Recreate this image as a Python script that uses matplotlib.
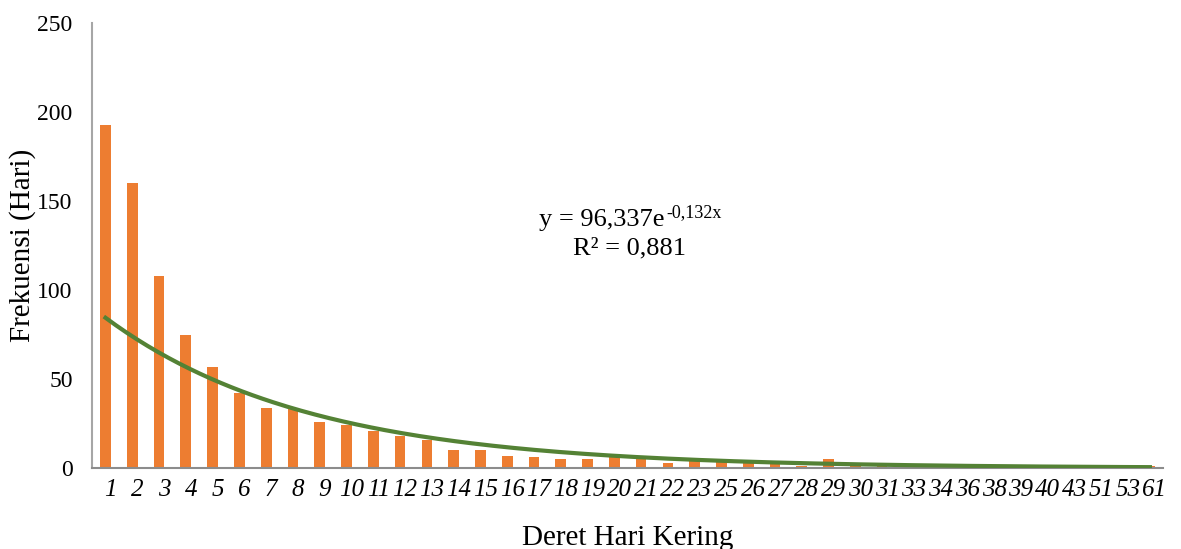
import matplotlib.pyplot as plt
import matplotlib.transforms as mtransforms
import numpy as np

plt.rcParams['font.family'] = ['Liberation Serif', 'DejaVu Serif']

hari = ['1', '2', '3', '4', '5', '6', '7', '8', '9', '10', '11', '12', '13', '14',
        '15', '16', '17', '18', '19', '20', '21', '22', '23', '25', '26', '27', '28',
        '29', '30', '31', '33', '34', '36', '38', '39', '40', '43', '51', '53', '61']
frekuensi = [193, 160, 108, 75, 57, 42, 34, 33, 26, 24, 21, 18, 16, 10,
             10, 7, 6, 5, 5, 6, 6, 3, 4, 4, 3, 3, 1,
             5, 2, 1, 1, 1, 1, 1, 1, 1, 1, 1, 1, 1]

# trendline koefisien dari Excel
a, b = 96.337, -0.132

x = np.arange(1, len(hari) + 1)
xt = np.linspace(1, len(hari), 300)

fig = plt.figure(figsize=(11.81, 5.49), dpi=100)
ax = fig.add_axes([0.078, 0.1475, 0.907, 0.8105])

ax.bar(x, frekuensi, width=0.4, color='#ED7D31', zorder=2)
ax.plot(xt, a * np.exp(b * xt), color='#548235', linewidth=3, zorder=3)

ax.set_xlim(0.5, len(hari) + 0.5)
ax.set_ylim(0, 250)
ax.set_yticks([0, 50, 100, 150, 200, 250])
ax.set_xticks(x)
ax.set_xticklabels(hari, fontstyle='italic', fontsize=18)
ax.tick_params(axis='y', labelsize=17, length=0, pad=14)
ax.tick_params(axis='x', length=0, pad=8)

# geser label x sedikit ke kanan
geser = mtransforms.ScaledTranslation(5 / 100, 0, fig.dpi_scale_trans)
for lbl in ax.get_xticklabels():
    lbl.set_transform(lbl.get_transform() + geser)

for s in ['top', 'right']:
    ax.spines[s].set_visible(False)
ax.spines['left'].set_color('#A6A6A6')
ax.spines['left'].set_linewidth(1.5)
ax.spines['bottom'].set_color('#8C8C8C')
ax.spines['bottom'].set_linewidth(1.5)

ax.set_ylabel('Frekuensi (Hari)', fontsize=21)
ax.yaxis.set_label_coords(-0.052, 0.5)
ax.set_xlabel('Deret Hari Kering', fontsize=21)
ax.xaxis.set_label_coords(0.5, -0.128)

fig.text(0.563, 0.599, 'y = 96,337e', ha='right', va='center', fontsize=19)
fig.text(0.5645, 0.612, '-0,132x', ha='left', va='center', fontsize=13)
fig.text(0.5326, 0.548, 'R² = 0,881', ha='center', va='center', fontsize=19)

fig.savefig('out.png')
